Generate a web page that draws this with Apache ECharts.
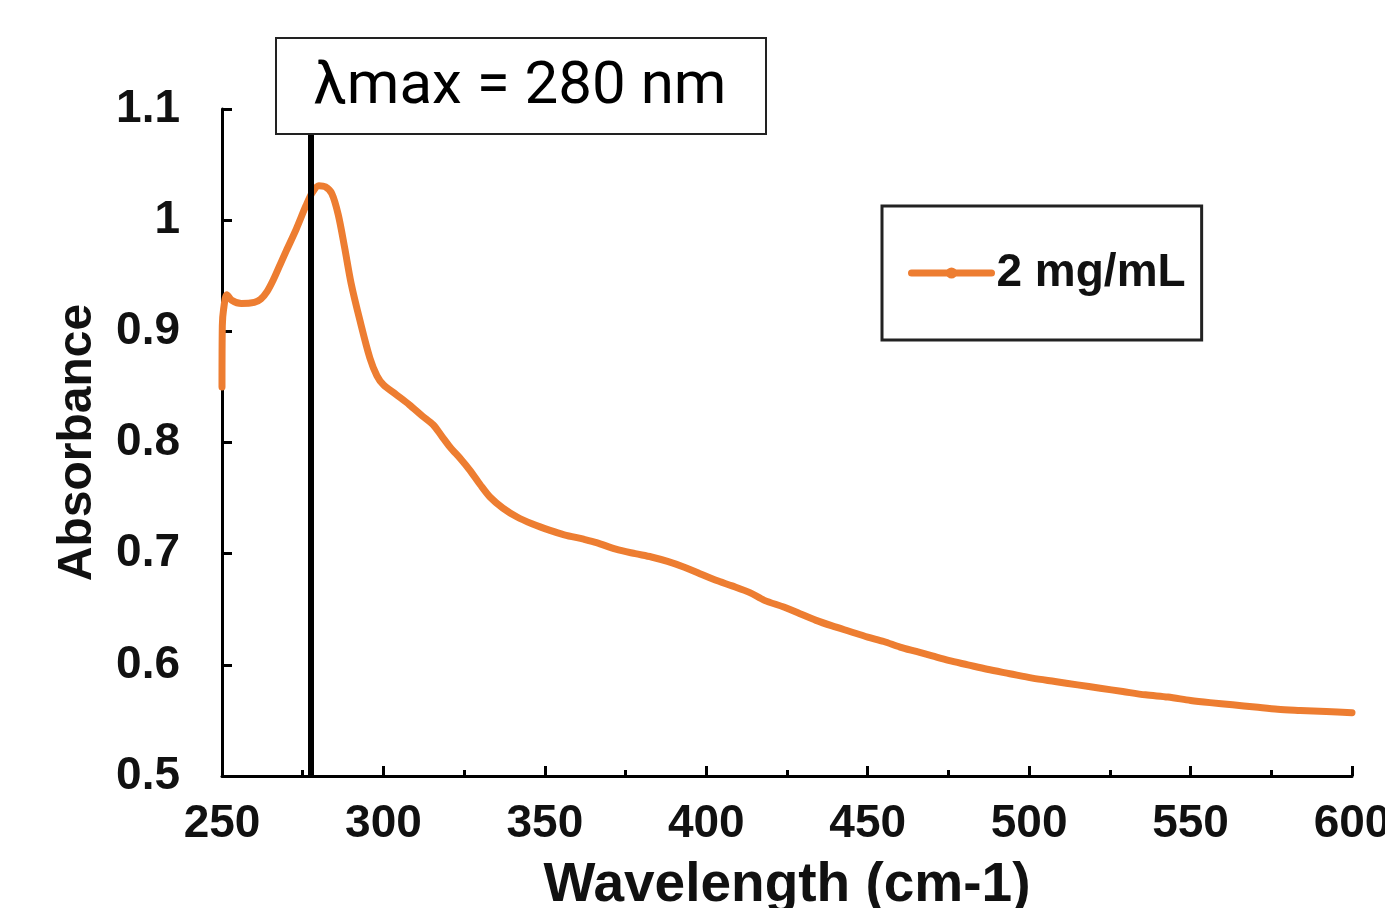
<!DOCTYPE html>
<html>
<head>
<meta charset="utf-8">
<script src="https://cdn.jsdelivr.net/npm/echarts@6/dist/echarts.min.js"></script>
<style>
  html, body { margin: 0; padding: 0; background: #fff; }
</style>
</head>
<body>
<div id="main" style="width: 1385px;height:908px;"></div>
<script>
  // 读图得到的数据
  var wavelengths = [250, 250.1, 250.5, 251.5, 253, 256, 260, 262, 264, 266, 268, 270, 273, 276, 278, 280, 282, 284, 286, 288, 290, 292.7, 295.8, 298, 300,
    304, 308, 312, 315.4, 318, 320.6, 324, 326.8, 330, 333, 337, 341.4, 346, 351.6, 356, 362, 366, 372, 378, 383, 388, 393, 398, 403, 408,
    413.5, 418, 424, 429, 434, 439, 444.5, 450, 455, 460, 465, 470, 475, 481, 487, 494, 501, 508, 515, 522, 529, 536, 543, 550, 556, 563,
    570, 577, 584, 592, 600];
  var absorbance = [0.85, 0.905, 0.92, 0.933, 0.928, 0.925, 0.926, 0.929, 0.936, 0.947, 0.960, 0.973, 0.992, 1.013, 1.025, 1.031, 1.03, 1.024, 1.005, 0.975, 0.943, 0.91, 0.876, 0.86, 0.852,
    0.843, 0.834, 0.824, 0.816, 0.806, 0.796, 0.785, 0.775, 0.762, 0.751, 0.741, 0.733, 0.727, 0.721, 0.717, 0.713, 0.710, 0.704, 0.700, 0.697, 0.693, 0.688, 0.682, 0.676, 0.671,
    0.665, 0.658, 0.652, 0.646, 0.640, 0.635, 0.630, 0.625, 0.621, 0.616, 0.612, 0.608, 0.604, 0.600, 0.596, 0.592, 0.588, 0.585, 0.582, 0.579, 0.576, 0.573, 0.571, 0.568, 0.566, 0.564,
    0.562, 0.560, 0.559, 0.558, 0.557];
  var seriesName = '2 mg/mL';
  var lambdaMax = 277.6;
  var xTicks = [250, 600, 50];
  var yTicks = [0.5, 1.1, 0.1];

  var points = wavelengths.map(function (w, i) { return [w, absorbance[i]]; });
  var font = '"Liberation Sans", Arial, sans-serif';

  var myChart = echarts.init(document.getElementById('main'));
  var option = {
    animation: false,
    grid: { left: 222, right: 33, top: 109, bottom: 132, containLabel: false, outerBoundsMode: 'none' },
    legend: {
      left: 882,
      top: 206,
      padding: [44, 16, 44, 26],
      borderColor: '#222',
      borderWidth: 3,
      itemWidth: 80,
      itemHeight: 14,
      itemGap: 0,
      lineStyle: { width: 7 },
      textStyle: { fontFamily: font, fontWeight: 'bold', fontSize: 46, color: '#111' },
      data: [seriesName]
    },
    xAxis: {
      type: 'value',
      min: xTicks[0], max: xTicks[1], interval: xTicks[2],
      name: 'Wavelength (cm-1)',
      nameLocation: 'middle',
      nameGap: 82,
      nameTextStyle: { fontFamily: font, fontWeight: 'bold', fontSize: 55, color: '#111' },
      axisLine: { lineStyle: { color: '#000', width: 3 } },
      axisTick: { inside: true, length: 10, lineStyle: { color: '#000', width: 3 } },
      minorTick: { show: true, splitNumber: 2, length: 6, lineStyle: { color: '#000', width: 3 } },
      axisLabel: { margin: 25, fontFamily: font, fontWeight: 'bold', fontSize: 46, color: '#111' },
      splitLine: { show: false }
    },
    yAxis: {
      type: 'value',
      min: yTicks[0], max: yTicks[1], interval: yTicks[2],
      name: 'Absorbance',
      nameLocation: 'middle',
      nameGap: 120,
      nameTextStyle: { fontFamily: font, fontWeight: 'bold', fontSize: 48, color: '#111' },
      axisLine: { show: true, lineStyle: { color: '#000', width: 3 } },
      axisTick: { inside: true, length: 10, lineStyle: { color: '#000', width: 3 } },
      axisLabel: { margin: 42, fontFamily: font, fontWeight: 'bold', fontSize: 46, color: '#111' },
      splitLine: { show: false }
    },
    series: [
      {
        name: seriesName,
        type: 'line',
        data: points,
        smooth: 0.3,
        symbol: 'circle',
        symbolSize: 6,
        showSymbol: false,
        itemStyle: { color: '#ED7D31' },
        lineStyle: { color: '#ED7D31', width: 7, cap: 'round', join: 'round' },
        markLine: {
          silent: true,
          symbol: 'none',
          label: { show: false },
          lineStyle: { color: '#000', width: 6, type: 'solid' },
          data: [[{ coord: [lambdaMax, yTicks[0]] }, { coord: [lambdaMax, yTicks[1]] }]]
        }
      }
    ],
    graphic: [
      {
        type: 'rect',
        z: 100,
        shape: { x: 276, y: 38, width: 490, height: 96 },
        style: { fill: '#fff', stroke: '#222', lineWidth: 2 }
      },
      {
        type: 'text',
        z: 101,
        x: 520,
        y: 88,
        style: {
          text: 'λmax = 280 nm',
          fontFamily: 'Roboto, sans-serif',
          fontSize: 60,
          fill: '#000',
          align: 'center',
          verticalAlign: 'middle'
        }
      }
    ]
  };
  myChart.setOption(option);
</script>
</body>
</html>
